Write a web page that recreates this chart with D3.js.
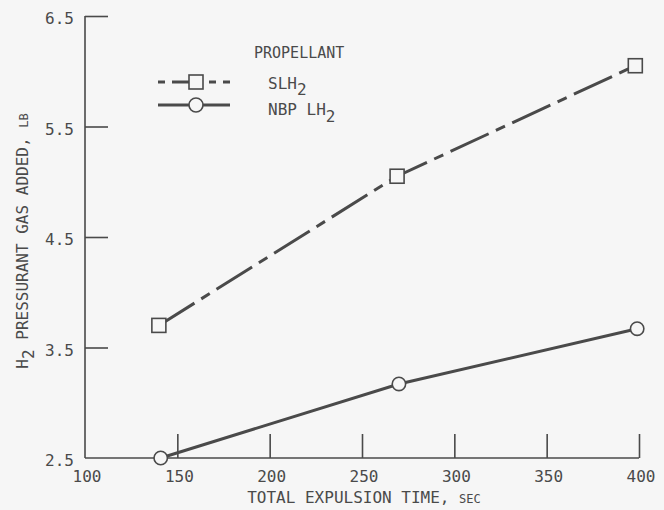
<!DOCTYPE html>
<html><head><meta charset="utf-8">
<script src="https://cdn.jsdelivr.net/npm/d3@7"></script>
<style>body{margin:0;background:#f6f6f6;}svg{display:block;}</style>
</head><body>
<script>
const times = [140, 269, 398];
const slh2 = [3.70, 5.05, 6.05];
const nbpTimes = [141, 270, 399];
const nbp = [2.50, 3.17, 3.67];
const xTicks = [100, 150, 200, 250, 300, 350, 400];
const yTicks = [2.5, 3.5, 4.5, 5.5, 6.5];

const W = 664, H = 510;
const ink = "#4a4a4a";
const font = "'DejaVu Sans Mono', monospace";
const svg = d3.select("body").append("svg").attr("width", W).attr("height", H)
  .style("background", "#f6f6f6");

const x = d3.scaleLinear().domain([100, 400]).range([85, 639]);
const y = d3.scaleLinear().domain([2.5, 6.5]).range([458, 16]);

// axes
const gx = svg.append("g").attr("transform", "translate(0,458)")
  .call(d3.axisTop(x).tickValues(xTicks).tickSize(24).tickFormat(""));
gx.select(".domain").attr("stroke", ink).attr("stroke-width", 1.6).attr("d", `M${x(100)},0H${x(400)}`);
gx.selectAll(".tick line").attr("stroke", ink).attr("stroke-width", 1.6)
  .filter(d => d === 100).remove();

const gy = svg.append("g").attr("transform", "translate(85,0)")
  .call(d3.axisRight(y).tickValues(yTicks).tickSize(23).tickFormat(""));
gy.select(".domain").attr("stroke", ink).attr("stroke-width", 1.6).attr("d", `M0,${y(2.5)}V${y(6.5)}`);
gy.selectAll(".tick line").attr("stroke", ink).attr("stroke-width", 1.6)
  .filter(d => d === 2.5).remove();

// tick labels
svg.append("g").selectAll("text").data(xTicks).join("text")
  .attr("x", d => x(d) + 2).attr("y", 482).attr("text-anchor", "middle")
  .attr("font-family", font).attr("font-size", 16).attr("fill", ink).text(d => d);
svg.append("g").selectAll("text").data(yTicks).join("text")
  .attr("x", 74).attr("y", d => y(d) + 8).attr("text-anchor", "end")
  .attr("font-family", font).attr("font-size", 16).attr("fill", ink).text(d => d.toFixed(1));

// axis titles
const xt = svg.append("text").attr("x", 364).attr("y", 503).attr("text-anchor", "middle")
  .attr("font-family", font).attr("font-size", 16).attr("fill", ink);
xt.append("tspan").text("TOTAL EXPULSION TIME, ");
xt.append("tspan").attr("font-size", 12).text("SEC");

const yt = svg.append("text").attr("transform", "translate(28,241) rotate(-90)")
  .attr("text-anchor", "middle").attr("font-family", font).attr("font-size", 16).attr("fill", ink);
yt.append("tspan").text("H");
yt.append("tspan").attr("dy", 6).text("2");
yt.append("tspan").attr("dy", -6).text(" PRESSURANT GAS ADDED, ");
yt.append("tspan").attr("font-size", 12).text("LB");

// lines
const line = d3.line().x(d => x(d[0])).y(d => y(d[1]));
const sData = times.map((t, i) => [t, slh2[i]]);
const nData = nbpTimes.map((t, i) => [t, nbp[i]]);

svg.append("path").datum(sData).attr("d", line).attr("fill", "none")
  .attr("stroke", ink).attr("stroke-width", 3).attr("stroke-dasharray", "42,8,10,8");
svg.append("path").datum(nData).attr("d", line).attr("fill", "none")
  .attr("stroke", ink).attr("stroke-width", 3);

// markers
svg.append("g").selectAll("rect").data(sData).join("rect")
  .attr("x", d => x(d[0]) - 7).attr("y", d => y(d[1]) - 7).attr("width", 14).attr("height", 14)
  .attr("fill", "#f6f6f6").attr("stroke", ink).attr("stroke-width", 1.6);
svg.append("g").selectAll("circle").data(nData).join("circle")
  .attr("cx", d => x(d[0])).attr("cy", d => y(d[1])).attr("r", 6.7)
  .attr("fill", "#f6f6f6").attr("stroke", ink).attr("stroke-width", 1.6);

// legend
svg.append("text").attr("x", 254).attr("y", 58).attr("font-family", font)
  .attr("font-size", 15).attr("fill", ink).text("PROPELLANT");
svg.append("line").attr("x1", 158).attr("x2", 230).attr("y1", 82).attr("y2", 82)
  .attr("stroke", ink).attr("stroke-width", 3).attr("stroke-dasharray", "7,7,30,7,7");
svg.append("rect").attr("x", 189).attr("y", 75).attr("width", 14).attr("height", 14)
  .attr("fill", "#f6f6f6").attr("stroke", ink).attr("stroke-width", 1.6);
svg.append("line").attr("x1", 158).attr("x2", 230).attr("y1", 105).attr("y2", 105)
  .attr("stroke", ink).attr("stroke-width", 3);
svg.append("circle").attr("cx", 196).attr("cy", 105).attr("r", 7)
  .attr("fill", "#f6f6f6").attr("stroke", ink).attr("stroke-width", 1.6);

const l1 = svg.append("text").attr("x", 268).attr("y", 89).attr("font-family", font)
  .attr("font-size", 16).attr("fill", ink);
l1.append("tspan").text("SLH");
l1.append("tspan").attr("dy", 6).text("2");
const l2 = svg.append("text").attr("x", 268).attr("y", 115).attr("font-family", font)
  .attr("font-size", 16).attr("fill", ink);
l2.append("tspan").text("NBP LH");
l2.append("tspan").attr("dy", 7).text("2");
</script>
</body></html>
